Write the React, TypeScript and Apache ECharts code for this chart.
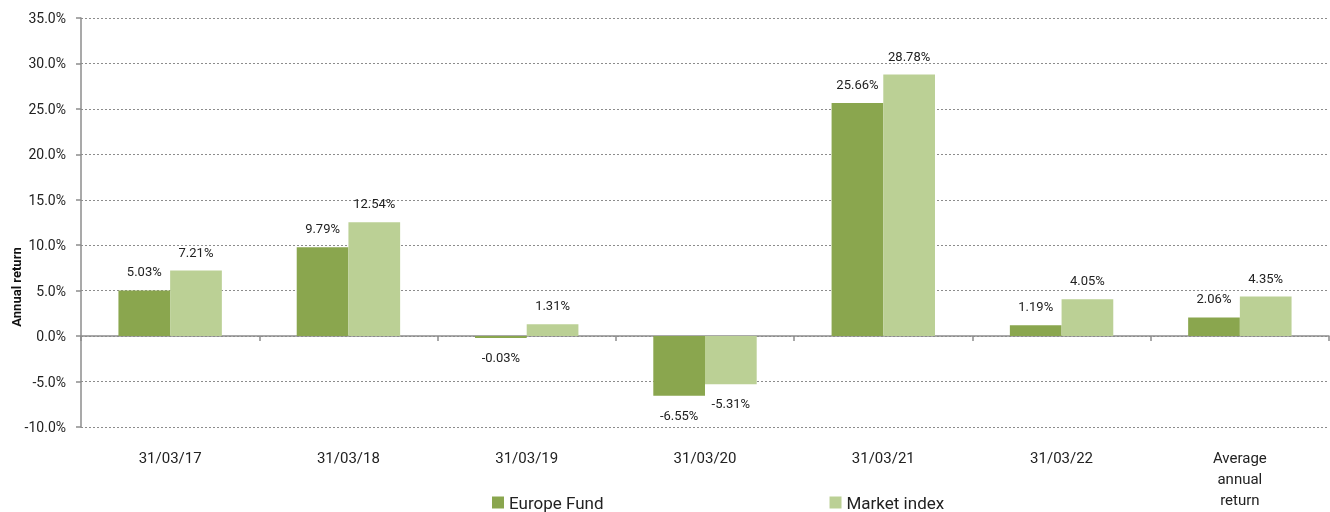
import React, { useEffect, useRef } from "react";
import * as echarts from "echarts";

const categories = ["31/03/17", "31/03/18", "31/03/19", "31/03/20", "31/03/21", "31/03/22", "Average\nannual\nreturn"];
const fundValues = [5.03, 9.79, -0.03, -6.55, 25.66, 1.19, 2.06];
const indexValues = [7.21, 12.54, 1.31, -5.31, 28.78, 4.05, 4.35];
const seriesNames = ["Europe Fund", "Market index"];
const yTicks = { min: -10, max: 35, interval: 5 };

const FONT = "Roboto, 'Noto Sans', sans-serif";

export default function App() {
  const ref = useRef<HTMLDivElement>(null);
  useEffect(() => {
    const chart = echarts.init(ref.current!, null, { renderer: "svg" });
    const label = (v: number) => ({
      show: true,
      position: v < 0 ? "bottom" : "top",
      distance: v < 0 ? 13 : 12,
      formatter: (p: any) => p.value.toFixed(2) + "%",
      fontSize: 13,
      color: "#222",
      fontFamily: FONT,
    });
    const mk = (vals: number[]) => vals.map((v) => ({ value: v, label: label(v) }));
    chart.setOption({
      animation: false,
      textStyle: { fontFamily: FONT },
      grid: { left: 81, right: 1, top: 18, bottom: 85, containLabel: false },
      legend: {
        data: seriesNames,
        left: 487,
        top: 489,
        padding: 5,
        itemWidth: 12,
        itemHeight: 12,
        itemGap: 226,
        itemTextGap: 6,
        icon: "rect",
        textStyle: { fontSize: 17, color: "#222", fontFamily: FONT },
      },
      graphic: [
        {
          type: "text",
          x: 16,
          y: 287,
          rotation: Math.PI / 2,
          style: {
            text: "Annual return",
            fontSize: 13,
            fontWeight: "bold",
            fill: "#111",
            fontFamily: FONT,
            align: "center",
            verticalAlign: "middle",
          },
        },
      ],
      xAxis: [
        {
          type: "category",
          data: categories,
          position: "bottom",
          axisLine: { show: false, onZero: false },
          axisTick: { show: false },
          axisLabel: { fontSize: 15, color: "#222", margin: 20, lineHeight: 21, fontFamily: FONT, interval: 0 },
        },
        {
          type: "category",
          data: categories,
          position: "bottom",
          axisLine: { show: true, onZero: true, lineStyle: { color: "#8c8c8c", width: 1.5 } },
          axisTick: { show: true, length: 5, lineStyle: { color: "#8c8c8c", width: 1.5 } },
          axisLabel: { show: false },
        },
      ],
      yAxis: {
        type: "value",
        min: yTicks.min,
        max: yTicks.max,
        interval: yTicks.interval,
        axisLine: { show: true, lineStyle: { color: "#8c8c8c", width: 1.5 } },
        axisTick: { show: true, length: 5, lineStyle: { color: "#8c8c8c", width: 1.5 } },
        axisLabel: { fontSize: 14, color: "#222", margin: 15, formatter: (v: number) => v.toFixed(1) + "%", fontFamily: FONT },
        splitLine: { show: true, lineStyle: { color: "#8c8c8c", type: [2, 2], width: 1.2 } },
      },
      series: [
        {
          name: seriesNames[0],
          type: "bar",
          data: mk(fundValues),
          itemStyle: { color: "#8AA64E" },
          barGap: "0%",
          barCategoryGap: "42%",
          barMinHeight: 2,
        },
        {
          name: seriesNames[1],
          type: "bar",
          data: mk(indexValues),
          itemStyle: { color: "#BBD095" },
          barGap: "0%",
          barCategoryGap: "42%",
          barMinHeight: 2,
        },
      ],
    });
    return () => chart.dispose();
  }, []);
  return <div ref={ref} style={{ position: "fixed", left: 0, top: 0, width: 1330, height: 512 }} />;
}
